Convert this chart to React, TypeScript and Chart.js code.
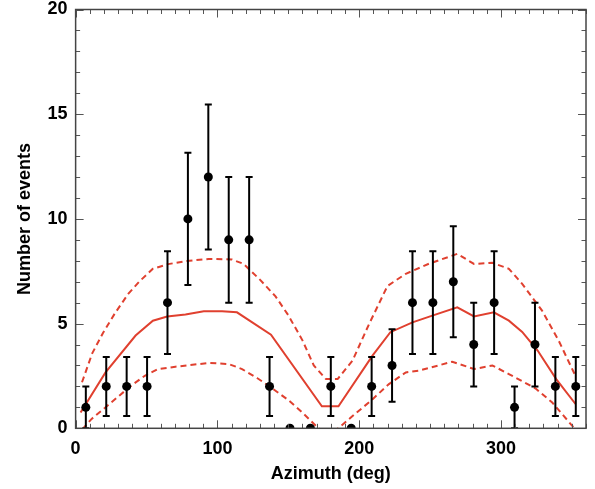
import React, { useEffect, useRef } from "react";
import { Chart, registerables } from "chart.js";

Chart.register(...registerables);

// ---- Data ----
const azimuth = [7.2, 21.6, 36.0, 50.4, 64.8, 79.2, 93.6, 108.0, 122.4, 136.8, 151.2, 165.6, 180.0, 194.4, 208.8, 223.2, 237.6, 252.0, 266.4, 280.8, 295.2, 309.6, 324.0, 338.4, 352.8];
const events = [1, 2, 2, 2, 6, 10, 12, 9, 9, 2, 0, 0, 2, 0, 2, 3, 6, 6, 7, 4, 6, 1, 4, 2, 2];
const eventErr = [1, 1.41, 1.41, 1.41, 2.45, 3.16, 3.46, 3, 3, 1.41, 0, 0, 1.41, 0, 1.41, 1.73, 2.45, 2.45, 2.65, 2, 2.45, 1, 2, 1.41, 1.41];

const modelAz = [3.5, 21.1, 42.3, 54.5, 64.6, 77.5, 90.4, 103.3, 113.8, 137.8, 173.7, 185.4, 209.4, 222.0, 237.6, 251.6, 269.2, 281.0, 295.0, 305.6, 315.0, 326.0, 339.0, 352.6];
const modelVal = [0.75, 2.67, 4.43, 5.14, 5.34, 5.43, 5.59, 5.59, 5.54, 4.47, 1.05, 1.05, 3.47, 4.59, 5.06, 5.38, 5.78, 5.34, 5.54, 5.14, 4.6, 3.7, 2.35, 1.16];

const upperAz = [4.5, 11.7, 19.2, 27.7, 37.1, 45.1, 54.5, 65.3, 77.5, 93.9, 110.3, 118.5, 130.0, 141.0, 150.0, 160.0, 168.0, 176.6, 184.8, 195.3, 207.0, 220.0, 232.9, 249.3, 269.2, 281.0, 294.0, 305.6, 315.0, 329.0, 340.7, 352.6];
const upperVal = [2.2, 3.58, 4.54, 5.49, 6.42, 7.02, 7.62, 7.84, 7.98, 8.09, 8.06, 7.85, 7.1, 6.3, 5.4, 4.2, 3.0, 2.35, 2.35, 3.23, 4.98, 6.8, 7.38, 7.86, 8.33, 7.85, 7.9, 7.62, 6.9, 5.62, 4.19, 2.5];

const lowerAz = [4.7, 11.3, 21.6, 31.0, 39.4, 48.8, 58.2, 70.4, 93.9, 108.0, 117.4, 128.0, 136.8, 150.0, 160.0, 169.5, 178.0, 186.0, 197.0, 208.0, 221.0, 232.9, 242.0, 265.7, 281.0, 294.0, 305.6, 324.5, 336.2, 350.5, 353.0];
const lowerVal = [-0.05, 0.45, 1.03, 1.57, 2.05, 2.51, 2.83, 2.94, 3.12, 3.07, 2.83, 2.4, 2.0, 1.35, 0.75, 0.12, -0.4, 0.04, 0.68, 1.3, 2.11, 2.67, 2.75, 3.18, 2.83, 3.0, 2.59, 1.9, 1.23, 0.1, -0.1];

const xTicks = [0, 100, 200, 300];
const yTicks = [0, 5, 10, 15, 20];
const xRange = [0, 360];
const yRange = [0, 20];
const xMinorStep = 10;
const yMinorStep = 1;

const RED = "#e0402f";
const FONT = { family: "'Liberation Sans', Arial, sans-serif", size: 18, weight: "bold" as const };

const errorBarPlugin = {
  id: "errorBars",
  beforeDatasetDraw(chart: any, args: any) {
    if (args.index !== 0) return;
    const { ctx, chartArea: a, scales } = chart;
    const x = scales.x, y = scales.y;
    ctx.save();
    ctx.beginPath();
    ctx.rect(a.left, a.top, a.right - a.left, a.bottom - a.top);
    ctx.clip();
    ctx.strokeStyle = "#000";
    ctx.lineWidth = 2;
    for (let i = 0; i < azimuth.length; i++) {
      const e = eventErr[i];
      if (!e) continue;
      const px = x.getPixelForValue(azimuth[i]);
      const top = y.getPixelForValue(events[i] + e);
      const bot = y.getPixelForValue(events[i] - e);
      ctx.beginPath();
      ctx.moveTo(px, top);
      ctx.lineTo(px, bot);
      ctx.moveTo(px - 3.5, top);
      ctx.lineTo(px + 3.5, top);
      ctx.moveTo(px - 3.5, bot);
      ctx.lineTo(px + 3.5, bot);
      ctx.stroke();
    }
    ctx.restore();
  },
};

const framePlugin = {
  id: "frame",
  afterDatasetsDraw(chart: any) {
    const { ctx, chartArea: a, scales } = chart;
    const x = scales.x, y = scales.y;
    ctx.save();
    ctx.strokeStyle = "#555";
    ctx.lineWidth = 1;
    ctx.beginPath();
    for (let v = xRange[0]; v <= xRange[1]; v += xMinorStep) {
      const px = Math.round(x.getPixelForValue(v)) + 0.5;
      const len = xTicks.includes(v) ? 8 : 4.5;
      ctx.moveTo(px, a.bottom);
      ctx.lineTo(px, a.bottom - len);
      ctx.moveTo(px, a.top);
      ctx.lineTo(px, a.top + len);
    }
    for (let v = yRange[0]; v <= yRange[1]; v += yMinorStep) {
      const py = Math.round(y.getPixelForValue(v)) + 0.5;
      const len = yTicks.includes(v) ? 8 : 4.5;
      ctx.moveTo(a.left, py);
      ctx.lineTo(a.left + len, py);
      ctx.moveTo(a.right, py);
      ctx.lineTo(a.right - len, py);
    }
    ctx.stroke();
    ctx.lineWidth = 1.5;
    ctx.strokeStyle = "#444";
    ctx.strokeRect(a.left, a.top, a.right - a.left, a.bottom - a.top);
    ctx.restore();
  },
};

function toXY(xs: number[], ys: number[]) {
  return xs.map((v, i) => ({ x: v, y: ys[i] }));
}

export default function App() {
  const ref = useRef<HTMLCanvasElement | null>(null);
  useEffect(() => {
    if (!ref.current) return;
    const chart = new Chart(ref.current, {
      type: "scatter",
      data: {
        datasets: [
          {
            label: "Data",
            data: toXY(azimuth, events),
            backgroundColor: "#000",
            borderColor: "#000",
            pointRadius: 4.5,
            pointBorderWidth: 0,
            showLine: false,
            clip: 0,
          } as any,
          {
            label: "Model",
            data: toXY(modelAz, modelVal),
            borderColor: RED,
            borderWidth: 2,
            pointRadius: 0,
            showLine: true,
            clip: 0,
          } as any,
          {
            label: "Upper",
            data: toXY(upperAz, upperVal),
            borderColor: RED,
            borderWidth: 2,
            borderDash: [6, 4],
            pointRadius: 0,
            showLine: true,
            clip: 0,
          } as any,
          {
            label: "Lower",
            data: toXY(lowerAz, lowerVal),
            borderColor: RED,
            borderWidth: 2,
            borderDash: [6, 4],
            pointRadius: 0,
            showLine: true,
            clip: 0,
          } as any,
        ],
      },
      options: {
        responsive: false,
        animation: false,
        layout: { padding: { left: 14, right: 9, top: 0, bottom: 4 } },
        plugins: { legend: { display: false }, tooltip: { enabled: false } },
        scales: {
          x: {
            type: "linear",
            min: xRange[0],
            max: xRange[1],
            afterBuildTicks: (s: any) => {
              s.ticks = xTicks.map((v) => ({ value: v }));
            },
            grid: { display: false, drawTicks: false },
            border: { display: false },
            ticks: { color: "#000", font: FONT, padding: 10, maxRotation: 0 },
            title: {
              display: true,
              text: "Azimuth (deg)",
              color: "#000",
              font: FONT,
              padding: { top: -6.5, bottom: 0 },
            },
          },
          y: {
            type: "linear",
            min: yRange[0],
            max: yRange[1],
            afterBuildTicks: (s: any) => {
              s.ticks = yTicks.map((v) => ({ value: v }));
            },
            afterFit: (s: any) => {
              s.paddingTop = 9.5;
            },
            grid: { display: false, drawTicks: false },
            border: { display: false },
            ticks: { color: "#000", font: FONT, padding: 8 },
            title: {
              display: true,
              text: "Number of events",
              color: "#000",
              font: FONT,
              padding: { top: 0, bottom: 4 },
            },
          },
        },
      },
      plugins: [errorBarPlugin, framePlugin],
    });
    return () => chart.destroy();
  }, []);

  return (
    <div style={{ position: "absolute", left: 0, top: 0, width: 595, height: 489, background: "#fff" }}>
      <canvas ref={ref} width={595} height={489} />
    </div>
  );
}
